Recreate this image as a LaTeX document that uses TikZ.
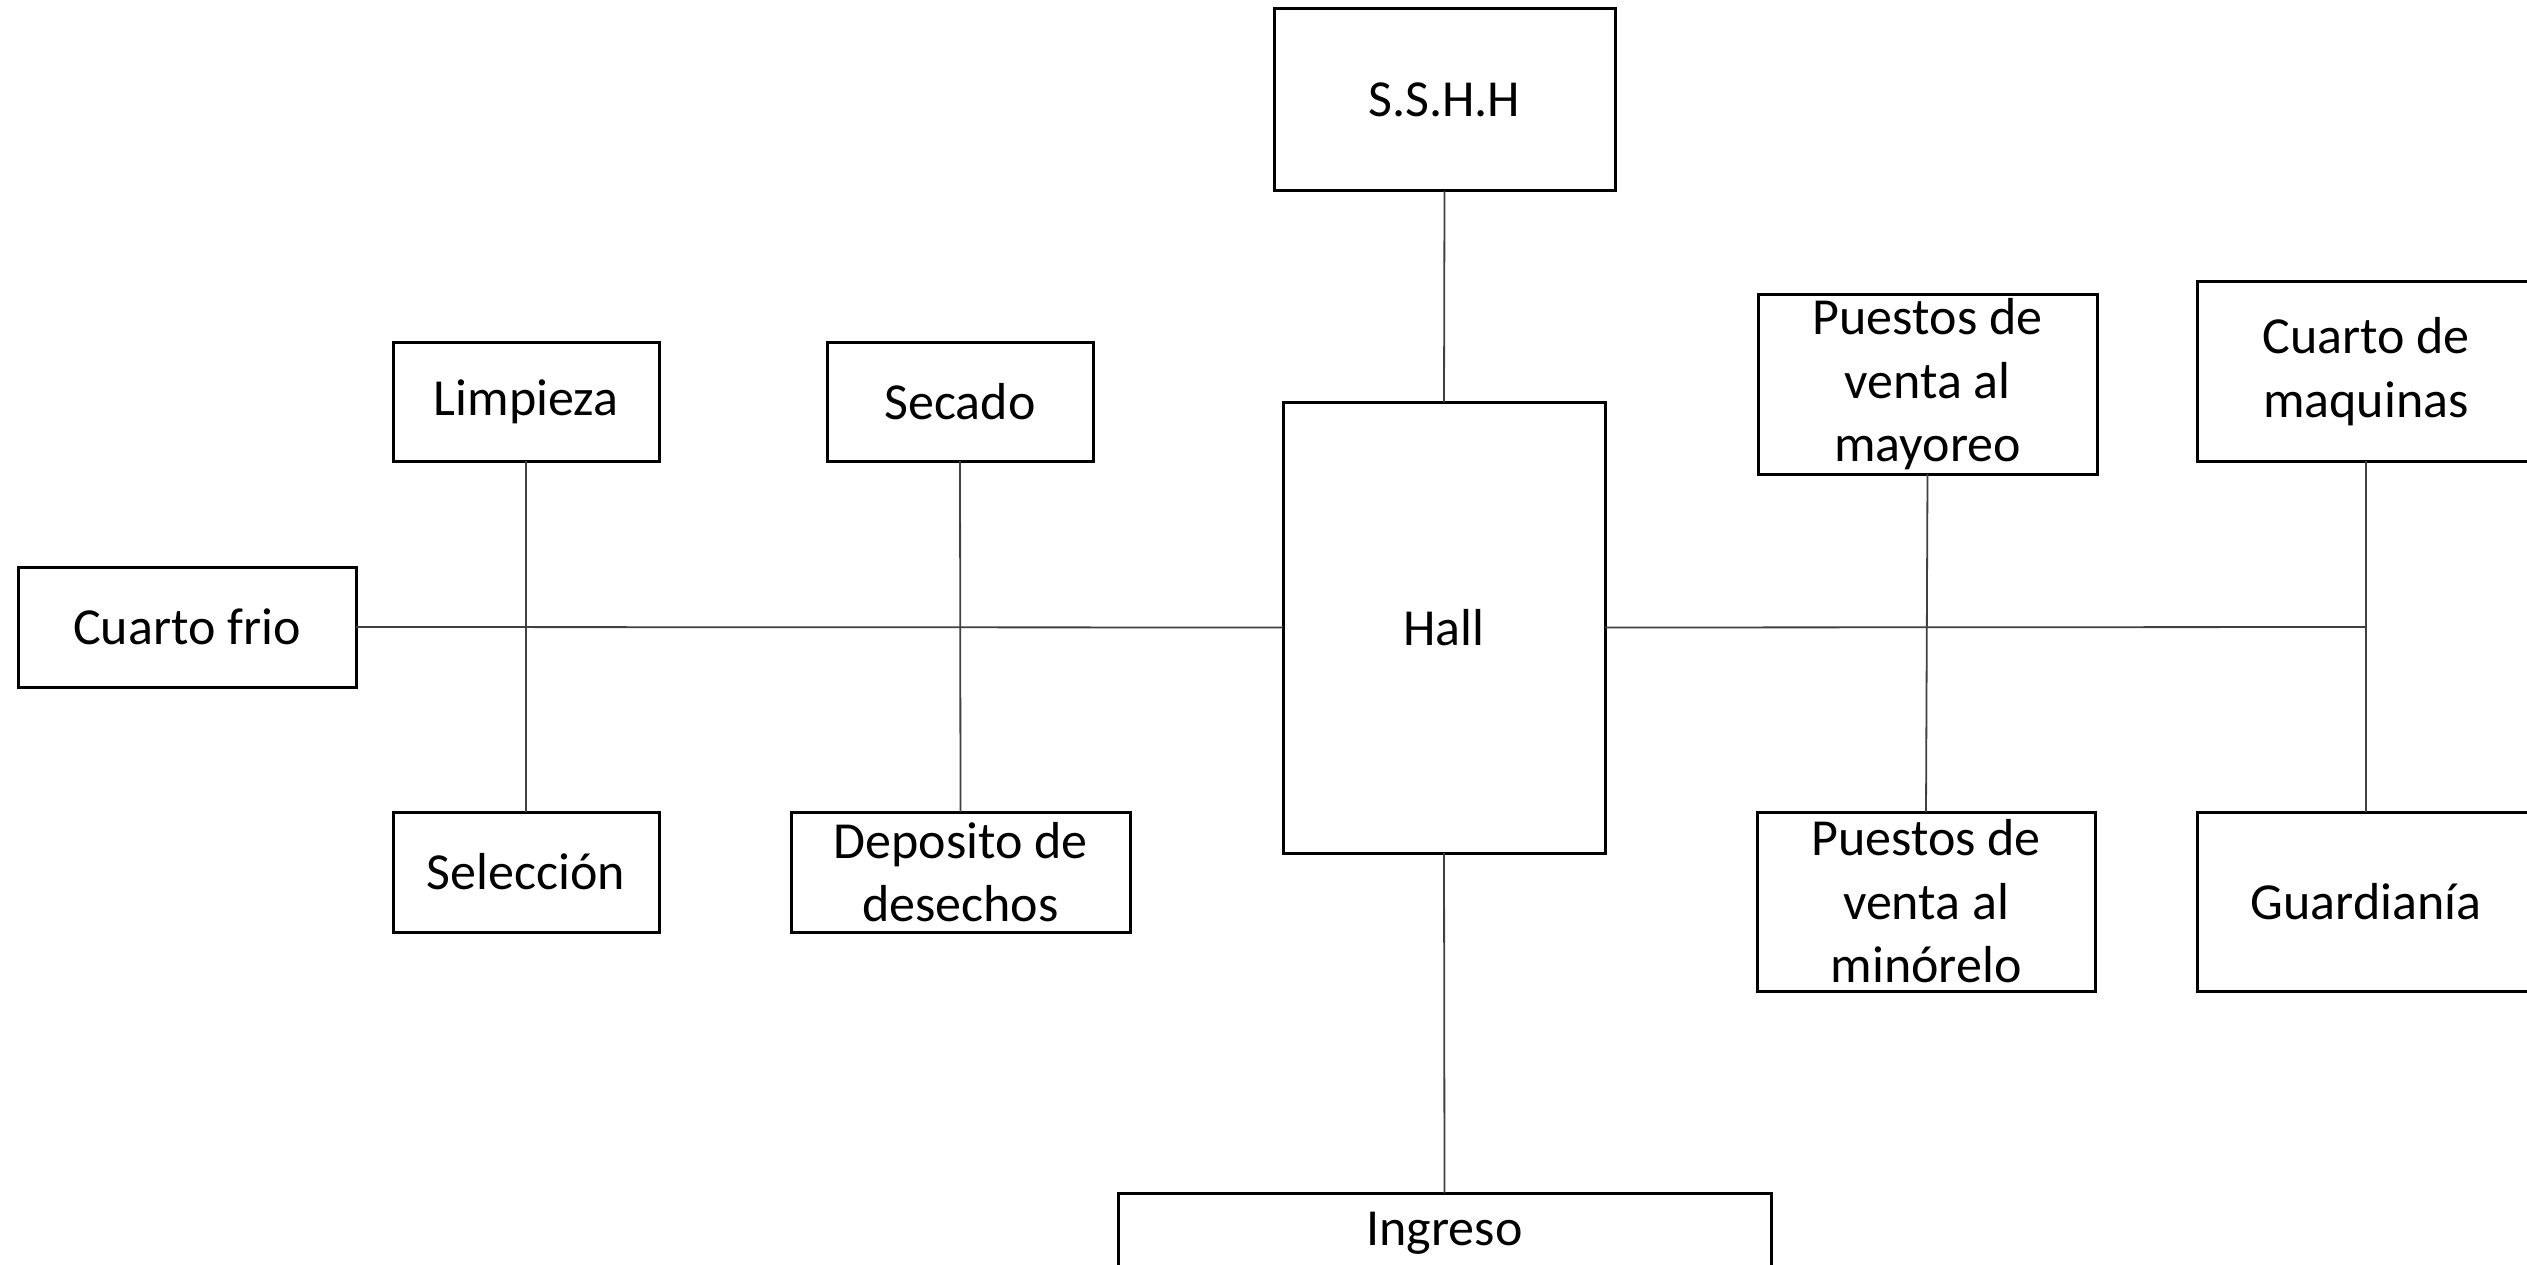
\documentclass[tikz,border=0pt]{standalone}
\usepackage{fontspec}
\setmainfont{Carlito}
\begin{document}
\begin{tikzpicture}[x=1pt,y=-1pt,
  box/.style={draw=black,line width=3pt,rectangle,inner sep=0pt,outer sep=0pt,align=center,
    font=\fontsize{52}{63.5}\selectfont},
  link/.style={draw=black!75,line width=1.8pt}]
\useasboundingbox[fill=white] (0,0) rectangle (2527,1265);
\node[box,minimum width=341pt,minimum height=182pt] (sshh) at (1444.5,100) {S.S.H.H};
\node[box,minimum width=322pt,minimum height=451pt] (hall) at (1444,627.5) {Hall};
\node[box,minimum width=266pt,minimum height=119pt] (limp) at (526,401.5) {Limpieza};
\node[box,minimum width=266pt,minimum height=119pt] (sec) at (960,401.5) {Secado};
\node[box,minimum width=338pt,minimum height=120pt] (cf) at (187,627) {Cuarto frio};
\node[box,minimum width=266pt,minimum height=120pt] (sel) at (526,872) {Selección};
\node[box,minimum width=339pt,minimum height=120pt] (dep) at (960.5,872) {Deposito de\\desechos};
\node[box,minimum width=339pt,minimum height=179pt] (pmay) at (1927.5,384.5) {Puestos de\\venta al\\mayoreo};
\node[box,minimum width=338pt,minimum height=179pt] (cmaq) at (2366,371.5) {Cuarto de\\maquinas};
\node[box,minimum width=338pt,minimum height=179pt] (pmin) at (1926,901.5) {Puestos de\\venta al\\minórelo};
\node[box,minimum width=338pt,minimum height=179pt] (guard) at (2366,901.5) {Guardianía};
\node[box,minimum width=653pt,minimum height=80pt] (ing) at (1444.5,1233) {Ingreso};
\coordinate (j) at (2366,627);
\draw[link] (cf.east) -- (hall.west);
\draw[link] (hall.east) -- (j);
\draw[link] (cmaq.south) -- (guard.north);
\draw[link] (limp.south) -- (sel.north);
\draw[link] (sec.south) -- (dep.north);
\draw[link] (pmay.south) -- (pmin.north);
\draw[link] (sshh.south) -- (hall.north);
\draw[link] (hall.south) -- (ing.north);
\end{tikzpicture}
\end{document}
